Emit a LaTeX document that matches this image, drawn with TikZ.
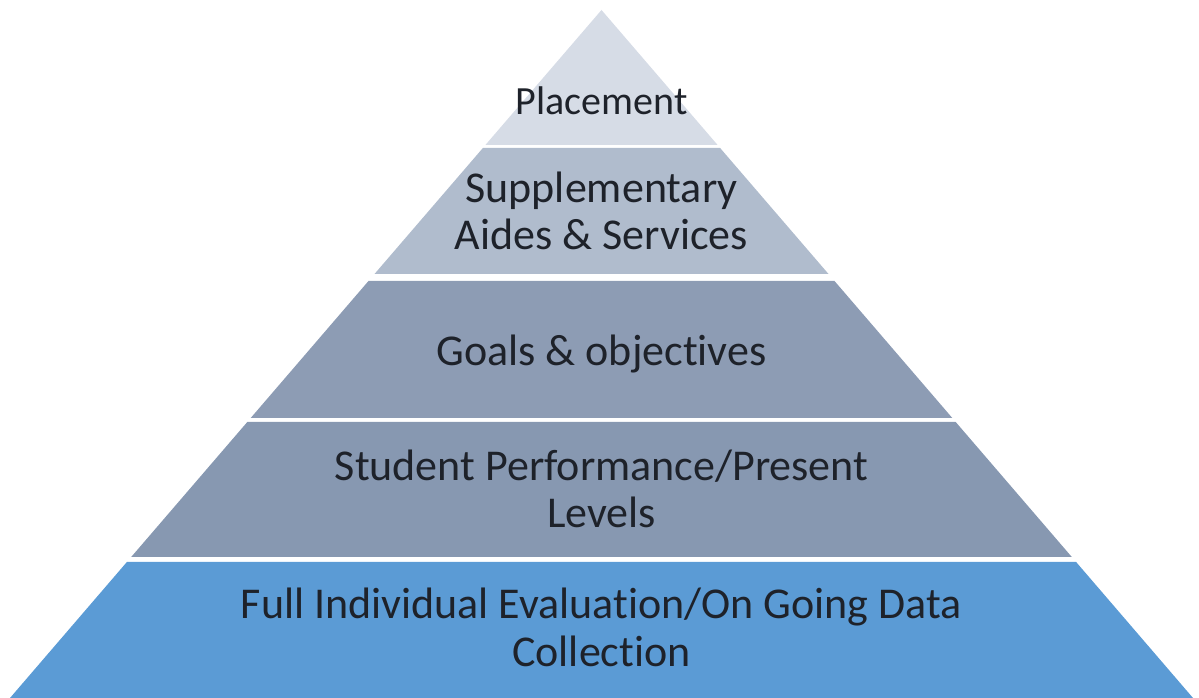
\documentclass[tikz,border=0pt]{standalone}
\usepackage{fontspec}
\setmainfont{Carlito}[Ligatures=NoCommon]
\usepackage{tikz}
\definecolor{tierone}{RGB}{214,220,230}
\definecolor{tiertwo}{RGB}{176,188,205}
\definecolor{tierthree}{RGB}{141,156,180}
\definecolor{tierfour}{RGB}{135,152,177}
\definecolor{tierfive}{RGB}{91,155,213}
\definecolor{tierink}{RGB}{30,34,42}
\tikzstyle{tier}=[draw=none]
\tikzstyle{tiertext}=[text=tierink,align=center,anchor=base,inner sep=0pt,font=\fontsize{44}{47}\selectfont]

\begin{document}
\begin{tikzpicture}[x=1pt,y=1pt]
      \useasboundingbox (0,0) rectangle (1199,698);
      % layers of the pyramid, top to bottom
      \fill [tier,tierone] (601.5,688) -- (717.6,553) -- (485.4,553) -- cycle;
      \fill [tier,tiertwo] (482.9,550) -- (720.1,550) -- (828.5,424) -- (374.5,424) -- cycle;
      \fill [tier,tierthree] (368.5,417) -- (834.5,417) -- (952.3,280) -- (250.7,280) -- cycle;
      \fill [tier,tierfour] (247.3,276) -- (955.7,276) -- (1071.8,141) -- (131.2,141) -- cycle;
      \fill [tier,tierfive] (126.9,136) -- (1076.1,136) -- (1193,0) -- (10,0) -- cycle;
      % texts (base = baseline of the last line)
      \node [tiertext,font=\fontsize{40}{44}\selectfont] (placement) at (601.5,583) {Placement};
      \node [tiertext] (supplementary) at (601.5,448) {Supplementary\\Aides \& Services};
      \node [tiertext] (goals) at (601.5,332) {Goals \& objectives};
      \node [tiertext] (performance) at (601.5,170) {Student Performance/Present\\Levels};
      \node [tiertext,font=\fontsize{44}{48}\selectfont] (evaluation) at (601.5,31) {Full Individual Evaluation/On Going Data\\Collection};
\end{tikzpicture}
\end{document}
